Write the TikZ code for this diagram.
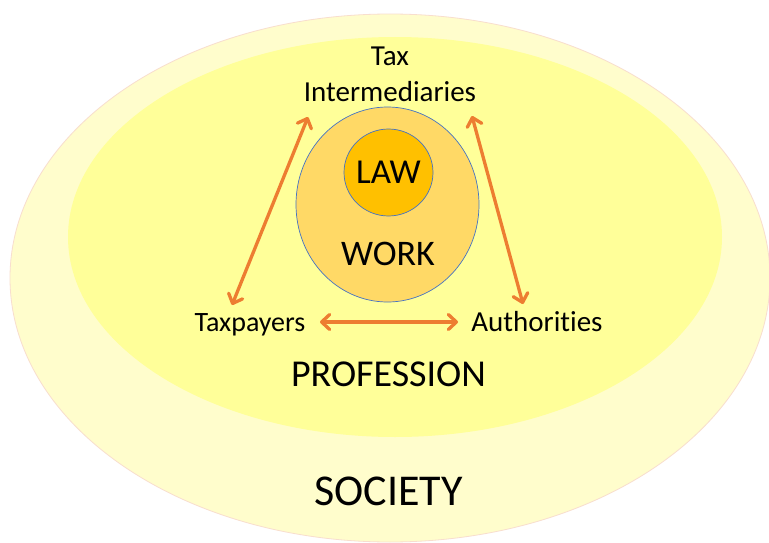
\documentclass[tikz,border=0pt]{standalone}
\usepackage{fontspec}
\setmainfont[Ligatures=NoCommon]{Carlito}
\usetikzlibrary{arrows.meta}
\definecolor{society}{RGB}{255,253,204}
\definecolor{societyline}{RGB}{248,222,206}
\definecolor{profession}{RGB}{255,255,153}
\definecolor{workfill}{RGB}{255,217,102}
\definecolor{lawfill}{RGB}{255,192,0}
\definecolor{ringline}{RGB}{68,114,196}
\definecolor{arrowc}{RGB}{237,125,49}
\tikzset{
  lbl/.style={anchor=base, inner sep=0pt, text=black},
  rel/.style={draw=arrowc, line width=3.3pt,
    {Straight Barb[length=8pt,width=15pt,round]}-{Straight Barb[length=8pt,width=15pt,round]}},
}
\begin{document}
\begin{tikzpicture}[x=1pt,y=-1pt]
\useasboundingbox (0,0) rectangle (769,543);
\clip (0,0) rectangle (769,543);
\fill[white] (0,0) rectangle (769,543);
% society
\path[fill=society, draw=societyline, line width=0.8pt] (390,278) ellipse [x radius=380, y radius=264];
% profession
\path[fill=profession] (395,237) ellipse [x radius=327, y radius=200];
% work
\path[fill=workfill, draw=ringline, line width=0.7pt] (387.5,204.5) ellipse [x radius=91.5, y radius=97.5];
% law
\path[fill=lawfill, draw=ringline, line width=0.7pt] (388.5,172.5) ellipse [x radius=44.5, y radius=43.5];
% labels
\node[lbl, font=\fontsize{35}{40}\selectfont] (law) at (388.5,183) {LAW};
\node[lbl, font=\fontsize{36}{40}\selectfont] (work) at (388,265) {WORK};
\node[lbl, font=\fontsize{29}{34}\selectfont] (tax) at (390,66) {Tax};
\node[lbl, font=\fontsize{29}{34}\selectfont] (interm) at (390,102) {Intermediaries};
\node[lbl, font=\fontsize{28}{34}\selectfont] (payers) at (250,331) {Taxpayers};
\node[lbl, font=\fontsize{29}{34}\selectfont] (auth) at (537,331) {Authorities};
\node[lbl, font=\fontsize{38}{44}\selectfont] (prof) at (388.5,386) {PROFESSION};
\node[lbl, font=\fontsize{44}{50}\selectfont] (soc) at (388.5,505) {SOCIETY};
% connector ends
\coordinate (tiL) at (308,117);
\coordinate (tiR) at (472,116);
\coordinate (tpU) at (232,305);
\coordinate (auU) at (523,304);
\coordinate (tpR) at (320,322);
\coordinate (auL) at (458,322);
\draw[rel] (tiL) -- (tpU);
\draw[rel] (tiR) -- (auU);
\draw[rel] (tpR) -- (auL);
\end{tikzpicture}
\end{document}
